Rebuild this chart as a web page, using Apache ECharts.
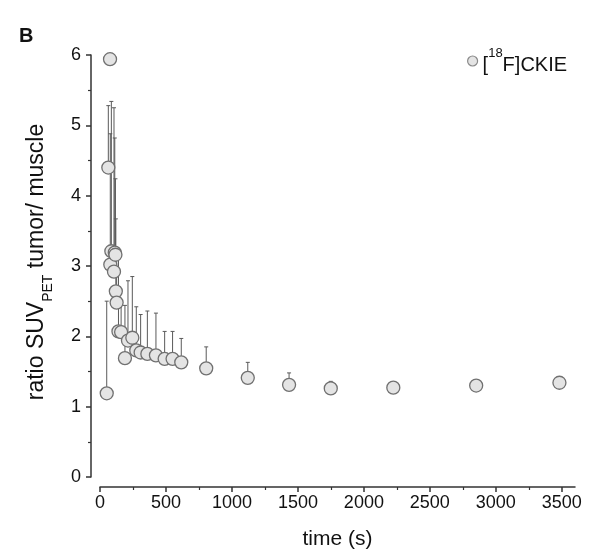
<!DOCTYPE html>
<html>
<head>
<meta charset="utf-8">
<script src="https://cdn.jsdelivr.net/npm/echarts@6/dist/echarts.min.js"></script>
<style>html,body{margin:0;padding:0;background:#fff}#c{width:609px;height:550px}</style>
</head>
<body>
<div id="c"></div>
<script>
// time (s)
const times = [51, 63, 76, 78, 86, 106, 112, 117, 120, 126, 140, 160, 189, 212, 245, 275, 308, 359, 424, 490, 550, 616, 805, 1120, 1433, 1749, 2223, 2851, 3482];
// ratio SUV_PET tumor/muscle
const ratios = [1.19, 4.40, 5.94, 3.02, 3.21, 2.92, 3.19, 3.16, 2.64, 2.48, 2.07, 2.06, 1.69, 1.94, 1.98, 1.80, 1.77, 1.75, 1.73, 1.68, 1.68, 1.63, 1.545, 1.41, 1.31, 1.26, 1.27, 1.30, 1.34];
// upper end of error bar
const errorTop = [2.50, 5.28, 5.94, 4.88, 5.34, 5.25, 4.82, 4.24, 3.67, 3.20, 3.20, 2.44, 2.44, 2.79, 2.85, 2.42, 2.31, 2.36, 2.33, 2.07, 2.07, 1.97, 1.85, 1.63, 1.48, 1.36, 1.34, 1.36, 1.40];
const xMajorTicks = [0, 500, 1000, 1500, 2000, 2500, 3000, 3500];
const xMinorTicks = [250, 750, 1250, 1750, 2250, 2750, 3250];
const seriesName = '[18F]CKIE';

const font = 'Liberation Sans, Arial, sans-serif';
const chart = echarts.init(document.getElementById('c'), null, {renderer: 'canvas'});

const pts = times.map((t, i) => [t, ratios[i], errorTop[i]]);

const axisCommonX = {
  type: 'value', min: 0, max: 3600, position: 'bottom', offset: 10,
  splitLine: {show: false}
};

chart.setOption({
  animation: false,
  backgroundColor: '#fff',
  title: {text: 'B', left: 14, top: 21, textStyle: {fontFamily: font, fontSize: 20, fontWeight: 'bold', color: '#111'}},
  legend: {
    data: [{name: seriesName, icon: 'circle'}],
    left: 462, top: 42, itemWidth: 10, itemHeight: 10, itemGap: 8,
    formatter: () => '{n|[}{s|18}{n|F]CKIE}',
    itemStyle: {color: '#e4e4e4', borderColor: '#8a8a8a', borderWidth: 1.2},
    textStyle: {
      fontFamily: font, color: '#111',
      rich: {
        n: {fontSize: 20, lineHeight: 28, verticalAlign: 'bottom', fontFamily: font, color: '#111'},
        s: {fontSize: 13, lineHeight: 13, verticalAlign: 'top', fontFamily: font, color: '#111'}
      }
    }
  },
  grid: {left: 100, right: 34, top: 55, bottom: 73, containLabel: false, outerBoundsMode: 'none'},
  xAxis: [
    Object.assign({}, axisCommonX, {
      name: 'time (s)', nameLocation: 'middle', nameGap: 42,
      nameTextStyle: {fontFamily: font, fontSize: 21, color: '#111'},
      axisLine: {show: true, onZero: false, lineStyle: {color: '#333', width: 1.5}},
      axisTick: {show: true, customValues: xMajorTicks, length: 5, lineStyle: {color: '#333', width: 1.5}},
      axisLabel: {customValues: xMajorTicks, formatter: v => String(v), fontFamily: font, fontSize: 18, color: '#111', margin: 7}
    }),
    Object.assign({}, axisCommonX, {
      axisLine: {show: false, onZero: false},
      axisTick: {show: true, customValues: xMinorTicks, length: 3, lineStyle: {color: '#333', width: 1.2}},
      axisLabel: {show: false}
    })
  ],
  yAxis: {
    type: 'value', min: 0, max: 6, interval: 1, position: 'left', offset: 9,
    name: 'ratio SUV{sub|PET} tumor/ muscle', nameLocation: 'middle', nameGap: 36, nameRotate: 90,
    nameTextStyle: {
      fontFamily: font, fontSize: 23, color: '#111',
      rich: {
        sub: {fontSize: 14, verticalAlign: 'bottom', lineHeight: 14, fontFamily: font, color: '#111'}
      },
      lineHeight: 36,
      padding: [0, 0, 0, 8]
    },
    splitLine: {show: false},
    axisLine: {show: true, onZero: false, lineStyle: {color: '#333', width: 1.5}},
    axisTick: {show: true, length: 5, lineStyle: {color: '#333', width: 1.5}},
    minorTick: {show: true, splitNumber: 2, length: 3, lineStyle: {color: '#333', width: 1.2}},
    axisLabel: {fontFamily: font, fontSize: 18, color: '#111', margin: 10}
  },
  series: [
    {
      type: 'custom', name: 'err', xAxisIndex: 0, yAxisIndex: 0, z: 1,
      data: pts,
      encode: {x: 0, y: [1, 2]},
      renderItem: function (params, api) {
        const x = api.value(0), y = api.value(1), up = api.value(2);
        const p0 = api.coord([x, y]);
        const p1 = api.coord([x, up]);
        const st = {stroke: '#5a5a5a', lineWidth: 1};
        return {
          type: 'group',
          children: [
            {type: 'line', shape: {x1: p0[0], y1: p0[1], x2: p1[0], y2: p1[1]}, style: st},
            {type: 'line', shape: {x1: p1[0] - 2, y1: p1[1], x2: p1[0] + 2, y2: p1[1]}, style: st}
          ]
        };
      },
      silent: true
    },
    {
      type: 'scatter', name: seriesName, xAxisIndex: 0, yAxisIndex: 0, z: 3,
      symbol: 'circle', symbolSize: 13,
      data: pts.map(p => [p[0], p[1]]),
      itemStyle: {color: '#e4e4e4', borderColor: '#707070', borderWidth: 1.3, opacity: 1}
    }
  ]
});
</script>
</body>
</html>
